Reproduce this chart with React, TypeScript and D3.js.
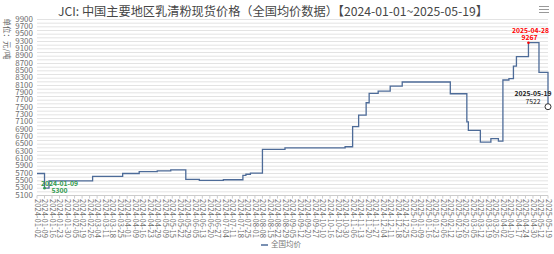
import React from "react";
import * as d3 from "d3";

const titleText = "JCI: 中国主要地区乳清粉现货价格（全国均价数据）【2024-01-01~2025-05-19】";
const yAxisName = "单位：元/吨";
const seriesName = "全国均价";

const tickLabels = [
  "2024-01-02","2024-01-09","2024-01-16","2024-01-23","2024-01-30","2024-02-05","2024-02-19","2024-02-26",
  "2024-03-04","2024-03-11","2024-03-18","2024-03-25","2024-04-01","2024-04-09","2024-04-16","2024-04-23",
  "2024-04-29","2024-05-09","2024-05-15","2024-05-22","2024-05-29","2024-06-05","2024-06-13","2024-06-20",
  "2024-06-27","2024-07-04","2024-07-11","2024-07-18","2024-07-25","2024-08-01","2024-08-08","2024-08-15",
  "2024-08-22","2024-08-29","2024-09-05","2024-09-12","2024-09-20","2024-09-27","2024-10-10","2024-10-16",
  "2024-10-23","2024-10-30","2024-11-06","2024-11-13","2024-11-20","2024-11-27","2024-12-04","2024-12-11",
  "2024-12-18","2024-12-25","2025-01-02","2025-01-09","2025-01-16","2025-01-23","2025-02-06","2025-02-12",
  "2025-02-19","2025-02-26","2025-03-05","2025-03-12","2025-03-19","2025-03-26","2025-04-02","2025-04-10",
  "2025-04-17","2025-04-24","2025-04-30","2025-05-12","2025-05-19"
];
const daysPerTick = 5;

// trading-day index where the price changes, and the price from that day on
const stepDays = [0, 5, 8, 37, 57, 68, 80, 89, 99, 108, 124, 137, 139, 142, 150, 165, 205, 210, 214, 219, 221, 227, 235, 243, 275, 286, 287, 295, 302, 307, 310, 314, 317, 319, 327, 334, 340];
const stepValues = [5700, 5300, 5500, 5620, 5700, 5750, 5770, 5800, 5540, 5510, 5530, 5650, 5680, 5710, 6360, 6400, 6430, 6980, 7290, 7630, 7885, 7945, 8085, 8195, 7875, 7110, 6875, 6555, 6650, 6585, 8250, 8290, 8630, 8885, 9267, 8460, 7522];

const minLabel = { day: 5, date: "2024-01-09", value: 5300 };
const maxLabel = { day: 327, date: "2025-04-28", value: 9267 };
const lastLabel = { day: 340, date: "2025-05-19", value: 7522 };

const yMin = 5100, yMax = 9900;

export default function App() {
  const W = 554, H = 254;
  const x = d3.scaleLinear().domain([0, (tickLabels.length - 1) * daysPerTick]).range([37, 548]);
  const y = d3.scaleLinear().domain([yMin, yMax]).range([195.5, 19.5]);
  const pts = stepDays.map((d, i) => [d, stepValues[i]] as [number, number]);
  const line = d3.line<[number, number]>().x(d => x(d[0])).y(d => y(d[1])).curve(d3.curveStepAfter);
  const grid = d3.range(yMin, yMax + 1, 100);
  const yTicks = d3.range(yMin, yMax + 1, 200);
  const font = "'Microsoft YaHei', 'Noto Sans CJK SC', 'Liberation Sans', sans-serif";

  // stack the axis-name characters vertically, each rotated
  const nameFs = 7.5;
  const chars = Array.from(yAxisName);
  const adv = chars.map(c => (c.charCodeAt(0) > 255 ? nameFs : nameFs * 0.45));
  const total = d3.sum(adv);
  let acc = 39 - total / 2;
  const namePos = chars.map((c, i) => {
    const cy = acc + adv[i] / 2;
    acc += adv[i];
    return { c, cy };
  });

  return (
    <svg width={W} height={H} style={{ position: "absolute", left: 0, top: 0, background: "#fff" }} fontFamily={font}>
      <text x={273} y={16} textAnchor="middle" fontSize={12.2} fill="#464646">{titleText}</text>
      <g stroke="#999" strokeWidth={1}>
        <line x1={539} x2={549} y1={6.5} y2={6.5} />
        <line x1={539} x2={549} y1={9.5} y2={9.5} />
        <line x1={539} x2={549} y1={12.5} y2={12.5} />
      </g>
      {namePos.map((p, i) => (
        <text key={i} transform={`translate(6,${p.cy}) rotate(90)`} textAnchor="middle" dominantBaseline="middle" fontSize={nameFs} fill="#666">{p.c}</text>
      ))}
      {grid.map(v => (
        <line key={v} x1={37} x2={548} y1={y(v)} y2={y(v)} stroke="#e3e3e3" strokeWidth={1} />
      ))}
      {yTicks.map(v => (
        <text key={v} x={33} y={y(v)} textAnchor="end" dominantBaseline="middle" fontSize={8} fill="#6e6e6e">{v}</text>
      ))}
      <line x1={37} x2={548} y1={y(yMin)} y2={y(yMin)} stroke="#ccc" />
      {tickLabels.map((t, i) => {
        const tx = x(i * daysPerTick);
        return (
          <g key={t}>
            <line x1={tx} x2={tx} y1={y(yMin)} y2={y(yMin) + 3} stroke="#ccc" />
            <text transform={`translate(${tx},${199}) rotate(90)`} textAnchor="start" dominantBaseline="middle" fontSize={7.6} fill="#6e6e6e">{t}</text>
          </g>
        );
      })}
      <path d={line(pts) || ""} fill="none" stroke="#4d6b98" strokeWidth={1.3} />
      {/* min annotation */}
      <circle cx={x(minLabel.day)} cy={y(minLabel.value)} r={1.3} fill="#2f9a4c" />
      <text x={x(minLabel.day) + 15} y={y(minLabel.value) - 2.5} textAnchor="middle" fontSize={6.8} fontWeight="bold" fill="#2f9a4c">{minLabel.date}</text>
      <text x={x(minLabel.day) + 15} y={y(minLabel.value) + 5} textAnchor="middle" fontSize={6.8} fontWeight="bold" fill="#2f9a4c">{minLabel.value}</text>
      {/* max annotation */}
      <circle cx={x(maxLabel.day)} cy={y(maxLabel.value)} r={1.3} fill="#ff0000" />
      <text x={x(maxLabel.day) + 2} y={y(maxLabel.value) - 10} textAnchor="middle" fontSize={6.8} fontWeight="bold" fill="#ff0000">{maxLabel.date}</text>
      <text x={x(maxLabel.day) + 1} y={y(maxLabel.value) - 2.5} textAnchor="middle" fontSize={6.8} fontWeight="bold" fill="#ff0000">{maxLabel.value}</text>
      {/* last annotation */}
      <circle cx={x(lastLabel.day)} cy={y(lastLabel.value)} r={3} fill="#fff" stroke="#333" strokeWidth={1} />
      <text x={x(lastLabel.day) - 15} y={y(lastLabel.value) - 10.5} textAnchor="middle" fontSize={6.8} fontWeight="bold" fill="#222">{lastLabel.date}</text>
      <text x={x(lastLabel.day) - 15} y={y(lastLabel.value) - 3} textAnchor="middle" fontSize={6.8} fill="#222">{lastLabel.value}</text>
      {/* legend */}
      <line x1={261} x2={268} y1={245} y2={245} stroke="#4d6b98" strokeWidth={1.5} />
      <text x={271} y={245} dominantBaseline="middle" fontSize={7.5} fill="#777">{seriesName}</text>
    </svg>
  );
}
